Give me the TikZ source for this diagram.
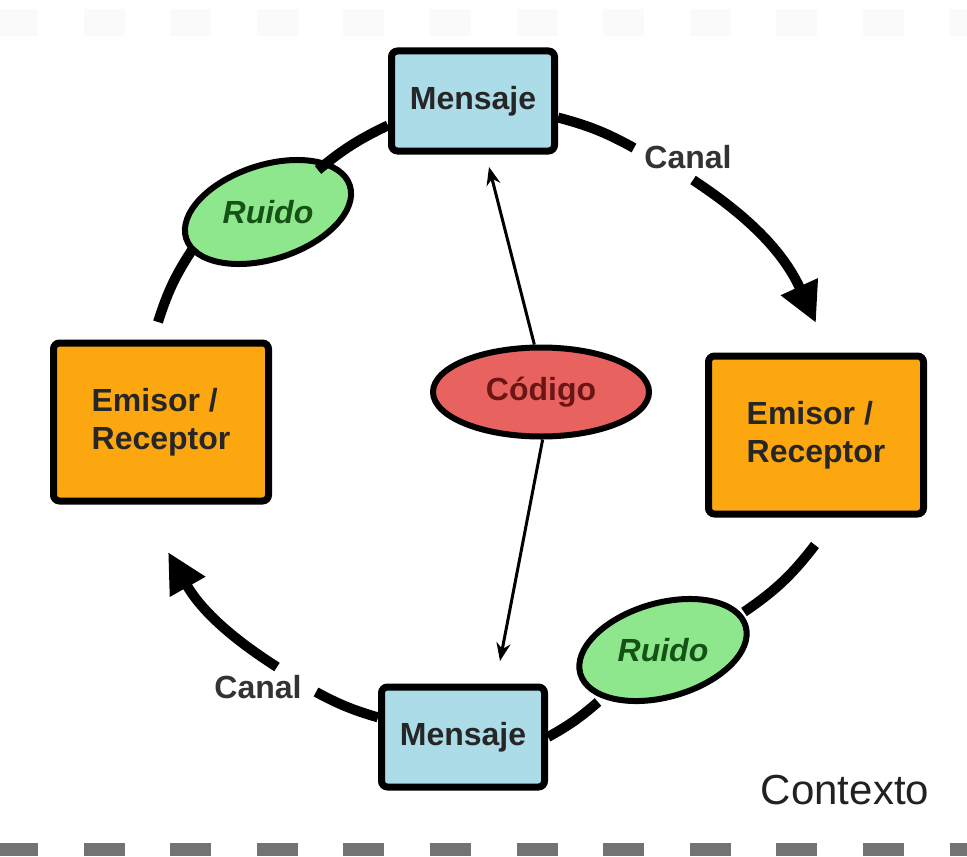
\documentclass[tikz,border=0pt]{standalone}
\usepackage{fontspec}
\setmainfont{Liberation Sans}
\usetikzlibrary{shapes.geometric,arrows.meta}
\definecolor{msgblue}{HTML}{ABDCE7}
\definecolor{erorange}{HTML}{FDA710}
\definecolor{noisegreen}{HTML}{8FE78D}
\definecolor{codered}{HTML}{E8635F}
\definecolor{codetext}{HTML}{6B1515}
\definecolor{noisetext}{HTML}{155215}
\definecolor{labelgray}{HTML}{333333}
\tikzset{
  msgbox/.style={draw=black, line width=3.5pt, fill=msgblue, rounded corners=3pt,
    minimum width=81.5pt, minimum height=50pt, inner sep=0pt,
    font=\fontsize{16}{19}\selectfont\bfseries, text=black!85},
  erbox/.style={draw=black, line width=3.5pt, fill=erorange, rounded corners=3pt,
    minimum width=107.5pt, minimum height=79pt, inner sep=0pt, align=left,
    font=\fontsize{16}{19}\selectfont\bfseries, text=black!85},
  noise/.style={draw=black, ellipse, line width=3pt, fill=noisegreen,
    minimum width=86pt, minimum height=47pt, inner sep=0pt},
  noiselabel/.style={font=\fontsize{16}{19}\selectfont\bfseries\itshape, text=noisetext, inner sep=0pt},
  codeell/.style={draw=black, ellipse, line width=3pt, fill=codered,
    minimum width=108pt, minimum height=44.5pt, inner sep=0pt,
    font=\fontsize{16}{19}\selectfont\bfseries, text=codetext},
  canallabel/.style={font=\fontsize{16}{19}\selectfont\bfseries, text=labelgray, inner sep=0pt},
  flow/.style={line width=5pt, draw=black},
  flowarrow/.style={flow, -{Triangle[length=20pt,width=19pt]}},
  thinarrow/.style={line width=1.5pt, draw=black, -{Stealth[length=9pt,width=7pt]}}
}
\begin{document}
\begin{tikzpicture}[x=0.5pt,y=0.5pt]
\path[use as bounding box, fill=white] (0,0) rectangle (967,-856);
% faint top and bottom dashes
\foreach \i in {0,...,11} {
  \fill[black!2] ({-3+86.6*\i},-9) rectangle ++(41,-27);
  \fill[black!55] ({-3+86.6*\i},-843) rectangle ++(41,-13);
}
% nodes
\node[msgbox] (m1) at (473,-101) {Mensaje};
\node[msgbox] (m2) at (463,-737) {Mensaje};
\node[erbox] (e1) at (161,-422) {Emisor /\\Receptor};
\node[erbox] (e2) at (816,-435) {Emisor /\\Receptor};
\node[codeell] (cod) at (541,-392) {Código};
\node[noise, rotate=18] (r1) at (268,-212) {};
\node[noiselabel] (r1t) at (r1) {Ruido};
\node[noise, rotate=16] (r2) at (663,-650) {};
\node[noiselabel] (r2t) at (r2) {Ruido};
\node[canallabel] (c1) at (688,-157) {Canal};
\node[canallabel] (c2) at (258,-687) {Canal};
\node[font=\fontsize{21}{25}\selectfont, text=black!87, inner sep=0pt] (ctx) at (845,-790) {Contexto};
% connector end points
\coordinate (a1) at (634,-148);
\coordinate (a2s) at (693,-180);
\coordinate (a2e) at (816,-323);
\coordinate (a3s) at (815,-545);
\coordinate (a3e) at (744,-612);
\coordinate (a4s) at (598,-702);
\coordinate (a5e) at (316,-692);
\coordinate (a6s) at (277,-667);
\coordinate (a6e) at (168,-552);
\coordinate (a7s) at (158,-322);
\coordinate (a7e) at (194,-247);
\coordinate (a8s) at (318,-170);
\coordinate (tA) at (489,-167);
\coordinate (tB) at (500,-661);
% flow arcs
\draw[flow] (m1.-11) to[bend left=7] (a1);
\draw[flowarrow] (a2s) to[bend left=16] (a2e);
\draw[flow] (a3s) to[bend left=9] (a3e);
\draw[flow] (a4s) to[bend left=6] (m2.east);
\draw[flow] (m2.167) to[bend left=6] (a5e);
\draw[flowarrow] (a6s) to[bend left=14] (a6e);
\draw[flow] (a7s) to[bend left=8] (a7e);
\draw[flow] (a8s) to[bend left=7] (m1.196);
% thin arrows from code
\draw[thinarrow] (cod.98) -- (tA);
\draw[thinarrow] (cod.-88) -- (tB);
\end{tikzpicture}
\end{document}
